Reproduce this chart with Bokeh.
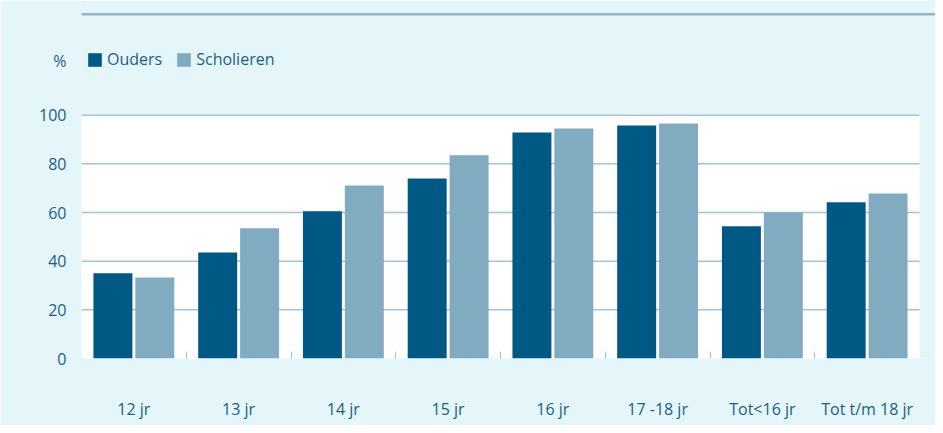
import numpy as np
from bokeh.plotting import figure
from bokeh.models import FixedTicker, Legend, LegendItem, ColumnDataSource, Span
from bokeh.embed import file_html
from bokeh.resources import INLINE

categories = ["12 jr", "13 jr", "14 jr", "15 jr", "16 jr", "17 -18 jr", "Tot<16 jr", "Tot t/m 18 jr"]
ouders = [35.0, 43.6, 60.5, 74.0, 92.9, 95.8, 54.3, 64.2]
scholieren = [33.3, 53.5, 71.1, 83.5, 94.5, 96.6, 60.0, 67.8]
y_ticks = [0, 20, 40, 60, 80, 100]
series_names = ["Ouders", "Scholieren"]
unit_label = "%"

BG = "#e4f6f9"
TXT = "#1d5d84"
C_OUD = "#005984"
C_SCH = "#80abc1"
GRID = "#a6c3d2"
FONT = "Open Sans"

# layout geometry (pixels)
W, H = 935, 425
LEFT, BOTTOM = 81, 67
PX_PER_CAT = 104.75
PX_PER_UNIT = 2.4333
frame_w = W - LEFT
frame_h = H - BOTTOM
n = len(categories)
ymax = y_ticks[-1]

x_end = frame_w / PX_PER_CAT
y_end = frame_h / PX_PER_UNIT

def y_at_px(py):
    # data value at pixel row py (from top of figure)
    return (frame_h - py) / PX_PER_UNIT

idx = np.arange(n) + 0.5
src = ColumnDataSource(dict(x_o=idx - 0.2, x_s=idx + 0.2, ouders=ouders, scholieren=scholieren))

p = figure(width=W, height=H, output_backend="svg", toolbar_location=None,
           x_range=(0, x_end), y_range=(0, y_end),
           min_border_left=LEFT, min_border_right=0, min_border_top=0, min_border_bottom=BOTTOM)
p.border_fill_color = BG
p.background_fill_color = BG
p.outline_line_color = None
p.xgrid.grid_line_color = None
p.ygrid.grid_line_color = None

# white plot area
p.quad(left=0, right=n, bottom=0, top=ymax, fill_color="white", line_color=None)

# horizontal grid lines limited to the plot area
grid_vals = y_ticks[1:]
p.segment(x0=[0] * len(grid_vals), x1=[n] * len(grid_vals), y0=grid_vals, y1=grid_vals,
          line_color=GRID, line_width=1.5)

r1 = p.vbar(x="x_o", top="ouders", width=0.372, source=src, fill_color=C_OUD, line_color=None)
r2 = p.vbar(x="x_s", top="scholieren", width=0.372, source=src, fill_color=C_SCH, line_color=None)

# header rule
p.add_layout(Span(location=y_at_px(13.5), dimension="width", line_color="#3f7690", line_width=1))
p.add_layout(Span(location=y_at_px(14.5), dimension="width", line_color="#93b6c6", line_width=1))

xa = p.xaxis[0]
xa.ticker = FixedTicker(ticks=list(idx), minor_ticks=list(range(1, n)))
xa.major_label_overrides = {float(v): c for v, c in zip(idx, categories)}
xa.axis_line_color = None
xa.major_tick_line_color = None
xa.minor_tick_in = 7
xa.minor_tick_out = 0
xa.minor_tick_line_color = GRID
xa.major_label_standoff = 33
xa.major_label_text_font = FONT
xa.major_label_text_font_size = "16px"
xa.major_label_text_color = TXT

pct_pos = round(y_at_px(60), 3)
ya = p.yaxis[0]
ya.ticker = FixedTicker(ticks=y_ticks + [pct_pos])
ya.major_label_overrides = {pct_pos: unit_label}
ya.axis_line_color = None
ya.major_tick_line_color = None
ya.minor_tick_line_color = None
ya.major_label_standoff = 9
ya.major_label_text_font = FONT
ya.major_label_text_font_size = "16px"
ya.major_label_text_color = TXT

legend = Legend(items=[LegendItem(label=series_names[0], renderers=[r1]),
                       LegendItem(label=series_names[1], renderers=[r2])],
                orientation="horizontal", location=(5, 288),
                glyph_width=17, glyph_height=17, label_standoff=4, spacing=13,
                padding=0, margin=0, border_line_color=None, background_fill_alpha=0,
                label_text_font=FONT, label_text_font_size="16px", label_text_color=TXT)
p.add_layout(legend, "center")

open("out.html", "w").write(file_html(p, INLINE))
